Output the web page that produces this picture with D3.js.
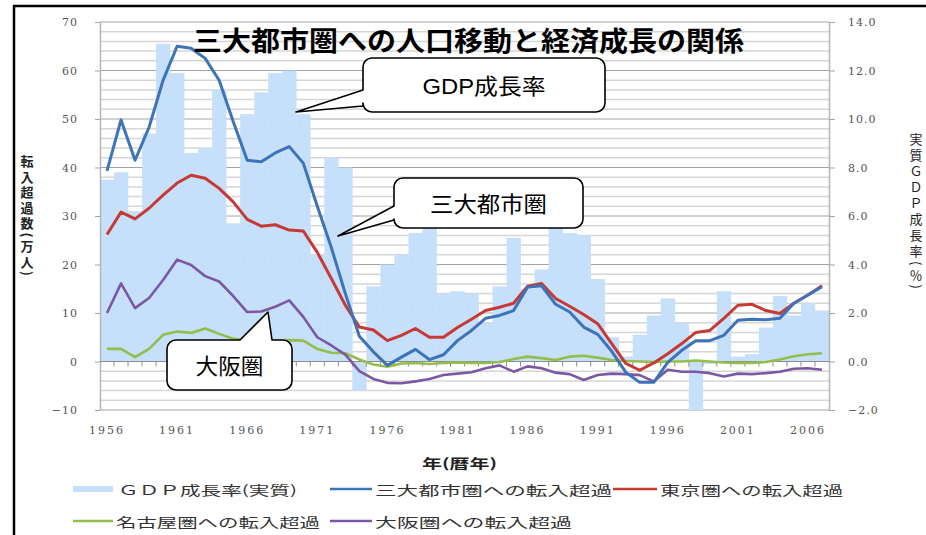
<!DOCTYPE html>
<html>
<head>
<meta charset="utf-8">
<script src="https://cdn.jsdelivr.net/npm/d3@7"></script>
<style>
  body { margin: 0; background: #fff; }
  svg { display: block; }
</style>
</head>
<body>
<svg id="chart" width="926" height="535"></svg>
<script>
// categories: calendar years 1956-2007
let years = d3.range(1956, 2008);

// real GDP growth rate (%), right axis
let gdpGrowth = [7.5, 7.8, 6.2, 9.4, 13.1, 11.9, 8.6, 8.8, 11.2, 5.7,
  10.2, 11.1, 11.9, 12.0, 10.2, 4.4, 8.4, 8.0, -1.2, 3.1,
  4.0, 4.4, 5.3, 5.5, 2.8, 2.9, 2.8, 1.6, 3.1, 5.1,
  3.0, 3.8, 6.8, 5.3, 5.2, 3.4, 1.0, 0.2, 1.1, 1.9,
  2.6, 1.6, -2.0, -0.1, 2.9, 0.2, 0.3, 1.4, 2.7, 1.9,
  2.4, 2.1];

// net in-migration (10k people), left axis
let sandaiNet = [39.3, 49.8, 41.5, 48.3, 58.0, 65.0, 64.6, 62.5, 58.0, 49.5,
  41.5, 41.2, 43.0, 44.3, 40.9, 32.0, 23.5, 14.0, 5.2, 2.0,
  -0.8, 0.9, 2.5, 0.4, 1.4, 4.3, 6.4, 8.9, 9.5, 10.5,
  15.3, 15.6, 11.8, 10.2, 7.1, 5.6, 2.1, -2.2, -4.3, -4.3,
  -0.2, 2.3, 4.3, 4.3, 5.4, 8.5, 8.7, 8.6, 8.9, 12.0,
  13.7, 15.4];
let tokyoNet = [26.2, 30.8, 29.4, 31.6, 34.3, 36.8, 38.4, 37.8, 35.7, 32.9,
  29.3, 27.9, 28.2, 27.1, 26.9, 22.5, 17.1, 11.6, 7.1, 6.5,
  4.3, 5.4, 6.8, 5.0, 5.0, 7.0, 8.7, 10.5, 11.2, 12.0,
  15.5, 16.1, 13.0, 11.4, 9.7, 7.8, 3.7, -0.4, -1.8, -0.3,
  1.6, 3.7, 6.0, 6.4, 8.9, 11.6, 11.8, 10.5, 9.9, 12.0,
  13.7, 15.6];
let nagoyaNet = [2.6, 2.6, 0.9, 2.6, 5.5, 6.2, 5.9, 6.8, 5.7, 4.7,
  4.4, 4.2, 4.3, 4.4, 4.3, 2.6, 1.8, 1.7, 0.4, -0.6,
  -1.1, -0.4, -0.3, -0.5, -0.3, -0.2, -0.3, -0.3, -0.1, 0.5,
  1.0, 0.7, 0.3, 1.0, 1.2, 0.8, 0.3, 0.1, 0.0, -0.1,
  0.0, 0.0, 0.2, 0.0, -0.2, -0.3, -0.3, -0.1, 0.4, 1.1,
  1.5, 1.7];
let osakaNet = [10.0, 16.1, 11.0, 13.1, 16.8, 21.0, 19.9, 17.6, 16.5, 13.5,
  10.2, 10.3, 11.3, 12.6, 9.2, 5.0, 3.3, 1.4, -2.0, -3.6,
  -4.4, -4.5, -4.1, -3.6, -2.8, -2.5, -2.2, -1.4, -0.8, -2.1,
  -1.0, -1.4, -2.3, -2.6, -3.8, -2.8, -2.5, -2.6, -2.8, -4.1,
  -1.7, -2.1, -2.1, -2.4, -3.1, -2.5, -2.6, -2.4, -2.1, -1.5,
  -1.4, -1.7];

let leftTicks = [-10, 0, 10, 20, 30, 40, 50, 60, 70];
let rightTicks = [-2, 0, 2, 4, 6, 8, 10, 12, 14];
let xTickYears = [1956, 1961, 1966, 1971, 1976, 1981, 1986, 1991, 1996, 2001, 2006];

let seriesNames = ["三大都市圏への転入超過", "東京圏への転入超過", "名古屋圏への転入超過", "大阪圏への転入超過"];
let barName = "ＧＤＰ成長率(実質)";

const colors = {
  bar: "#c6dffa",
  sandai: "#3d73b9",
  tokyo: "#c63a35",
  nagoya: "#94be4c",
  osaka: "#7b58a2"
};
const jp = "'Noto Sans CJK JP', sans-serif";
const serif = "'DejaVu Serif', serif";

const svg = d3.select("#chart");

//frame
svg.append("path")
  .attr("d", "M14,535V6H926")
  .attr("fill", "none")
  .attr("stroke", "#000")
  .attr("stroke-width", 2.5);

//scales
const plot = {left: 100, right: 829, top: 22, bottom: 410};
const x = d3.scaleBand().domain(years).range([plot.left, plot.right]).padding(0);
const bw = x.bandwidth();
const yL = d3.scaleLinear().domain([-10, 70]).range([plot.bottom, plot.top]);
const yR = d3.scaleLinear().domain([-2, 14]).range([plot.bottom, plot.top]);

//gridlines, minor every 2, major every 10
const grid = svg.append("g");
grid.selectAll("line.minor")
  .data(d3.range(-10, 71, 2).filter(d => d % 10 != 0))
  .enter().append("line")
  .attr("x1", plot.left).attr("x2", plot.right)
  .attr("y1", d => yL(d)).attr("y2", d => yL(d))
  .attr("stroke", "#d6d6d6").attr("stroke-width", 1.5);
grid.selectAll("line.major")
  .data(leftTicks)
  .enter().append("line")
  .attr("x1", plot.left).attr("x2", plot.right)
  .attr("y1", d => yL(d)).attr("y2", d => yL(d))
  .attr("stroke", "#a3a3a3").attr("stroke-width", 1);

//GDP bars
svg.append("g").selectAll("rect")
  .data(years)
  .enter().append("rect")
  .attr("x", d => x(d))
  .attr("width", bw + 0.3)
  .attr("y", (d, i) => yR(Math.max(0, gdpGrowth[i])))
  .attr("height", (d, i) => Math.abs(yR(gdpGrowth[i]) - yR(0)))
  .attr("fill", colors.bar);

//left axis
const axL = d3.axisLeft(yL).tickValues(leftTicks).tickSize(5).tickSizeOuter(0).tickPadding(17)
  .tickFormat(d3.format("d"));
const gL = svg.append("g").attr("transform", `translate(${plot.left},0)`).call(axL);
//right axis
const axR = d3.axisRight(yR).tickValues(rightTicks).tickSize(6).tickSizeOuter(0).tickPadding(13)
  .tickFormat(d3.format(".1f"));
const gR = svg.append("g").attr("transform", `translate(${plot.right},0)`).call(axR);
[gL, gR].forEach(g => {
  g.select(".domain").attr("stroke", "#b5b5b5").attr("stroke-width", 1.5);
  g.selectAll(".tick line").attr("stroke", "#a3a3a3");
  g.selectAll(".tick text")
    .attr("font-family", serif).attr("font-size", 11)
    .attr("letter-spacing", 1).attr("fill", "#555");
});

//category axis at zero with boundary ticks
const gX = svg.append("g");
gX.append("line")
  .attr("x1", plot.left).attr("x2", plot.right)
  .attr("y1", yL(0)).attr("y2", yL(0))
  .attr("stroke", "#8c8c8c").attr("stroke-width", 1.2);
gX.selectAll("line.tk")
  .data(years.slice(1))
  .enter().append("line")
  .attr("x1", d => x(d)).attr("x2", d => x(d))
  .attr("y1", yL(0)).attr("y2", yL(0) + 5)
  .attr("stroke", "#8c8c8c");

//year labels
const axB = d3.axisBottom(x).tickValues(xTickYears).tickSize(0).tickPadding(16);
const gB = svg.append("g").attr("transform", `translate(0,${plot.bottom})`).call(axB);
gB.select(".domain").remove();
gB.selectAll(".tick text")
  .attr("font-family", serif).attr("font-size", 11)
  .attr("letter-spacing", 2).attr("fill", "#555");

//lines
const line = d3.line().x((d, i) => x(years[i]) + bw / 2).y(d => yL(d));
const lineSeries = [
  {vals: nagoyaNet, color: colors.nagoya, w: 2.6},
  {vals: osakaNet, color: colors.osaka, w: 2.6},
  {vals: tokyoNet, color: colors.tokyo, w: 3},
  {vals: sandaiNet, color: colors.sandai, w: 3}
];
svg.append("g").selectAll("path")
  .data(lineSeries)
  .enter().append("path")
  .attr("d", d => line(d.vals))
  .attr("fill", "none")
  .attr("stroke", d => d.color)
  .attr("stroke-width", d => d.w)
  .attr("stroke-linejoin", "round");

//callouts
function calloutLeft(b, tip){
  let {x, y, w, h, r, a1, a2} = b;
  return `M${x+r},${y}H${x+w-r}A${r},${r} 0 0 1 ${x+w},${y+r}V${y+h-r}` +
    `A${r},${r} 0 0 1 ${x+w-r},${y+h}H${x+r}A${r},${r} 0 0 1 ${x},${y+h-r}` +
    `V${a2}L${tip[0]},${tip[1]}L${x},${a1}V${y+r}A${r},${r} 0 0 1 ${x+r},${y}Z`;
}
function calloutTop(b, tip){
  let {x, y, w, h, r, a1, a2} = b;
  return `M${x+r},${y}H${a1}L${tip[0]},${tip[1]}L${a2},${y}H${x+w-r}` +
    `A${r},${r} 0 0 1 ${x+w},${y+r}V${y+h-r}A${r},${r} 0 0 1 ${x+w-r},${y+h}` +
    `H${x+r}A${r},${r} 0 0 1 ${x},${y+h-r}V${y+r}A${r},${r} 0 0 1 ${x+r},${y}Z`;
}
const callouts = [
  {text: "GDP成長率", len: 123, box: {x: 363, y: 58, w: 242, h: 54, r: 9, a1: 90, a2: 106},
    tip: [296, 112], side: "left"},
  {text: "三大都市圏", len: 117, box: {x: 394, y: 178, w: 189, h: 50, r: 9, a1: 206, a2: 220},
    tip: [338, 236], side: "left"},
  {text: "大阪圏", len: 68, box: {x: 167, y: 340, w: 125, h: 50, r: 9, a1: 240, a2: 272},
    tip: [268, 312], side: "top"}
];
const gC = svg.append("g");
callouts.forEach(c => {
  gC.append("path")
    .attr("d", c.side == "left" ? calloutLeft(c.box, c.tip) : calloutTop(c.box, c.tip))
    .attr("fill", "#fff").attr("stroke", "#000").attr("stroke-width", 1.6)
    .attr("stroke-linejoin", "round");
  gC.append("text")
    .attr("x", c.box.x + c.box.w / 2 - c.len / 2)
    .attr("y", c.box.y + c.box.h / 2 + 1)
    .attr("dominant-baseline", "central")
    .attr("font-family", "'Liberation Sans', " + jp).attr("font-size", 22)
    .attr("textLength", c.len).attr("lengthAdjust", "spacingAndGlyphs")
    .attr("fill", "#000")
    .text(c.text);
});

//title
svg.append("text")
  .attr("x", 193).attr("y", 39)
  .attr("dominant-baseline", "central")
  .attr("font-family", jp).attr("font-size", 27).attr("font-weight", "bold")
  .attr("textLength", 551).attr("lengthAdjust", "spacingAndGlyphs")
  .text("三大都市圏への人口移動と経済成長の関係");

//vertical axis titles (ascii parens turn sideways, full-width letters stay upright)
svg.append("text")
  .attr("x", 27).attr("y", 155)
  .style("writing-mode", "vertical-rl")
  .attr("font-family", jp).attr("font-size", 13).attr("font-weight", "bold")
  .attr("letter-spacing", 2.5)
  .attr("fill", "#222")
  .text("転入超過数(万人)");
svg.append("text")
  .attr("x", 916).attr("y", 133)
  .style("writing-mode", "vertical-rl")
  .attr("font-family", jp).attr("font-size", 13)
  .attr("letter-spacing", 3)
  .attr("fill", "#222")
  .text("実質ＧＤＰ成長率(％)");

//x axis title
svg.append("text")
  .attr("x", 422).attr("y", 462)
  .attr("dominant-baseline", "central")
  .attr("font-family", jp).attr("font-size", 13).attr("font-weight", "bold")
  .attr("textLength", 75).attr("lengthAdjust", "spacingAndGlyphs")
  .attr("fill", "#222")
  .text("年(暦年)");

//legend
const legendItems = [
  {name: barName, kind: "bar", color: colors.bar, sx: 73, sw: 40, tx: 118, len: 179, y: 489},
  {name: seriesNames[0], kind: "line", color: colors.sandai, sx: 330, sw: 42, tx: 375, len: 237, y: 489},
  {name: seriesNames[1], kind: "line", color: colors.tokyo, sx: 613, sw: 44, tx: 660, len: 183, y: 489},
  {name: seriesNames[2], kind: "line", color: colors.nagoya, sx: 73, sw: 40, tx: 116, len: 204, y: 521},
  {name: seriesNames[3], kind: "line", color: colors.osaka, sx: 330, sw: 42, tx: 375, len: 197, y: 521}
];
const gLeg = svg.append("g");
legendItems.forEach(it => {
  if(it.kind == "bar"){
    gLeg.append("rect")
      .attr("x", it.sx).attr("y", it.y - 3).attr("width", it.sw).attr("height", 6)
      .attr("fill", it.color);
  }
  else{
    gLeg.append("line")
      .attr("x1", it.sx).attr("x2", it.sx + it.sw)
      .attr("y1", it.y).attr("y2", it.y)
      .attr("stroke", it.color).attr("stroke-width", 2.6);
  }
  gLeg.append("text")
    .attr("x", it.tx).attr("y", it.y)
    .attr("dominant-baseline", "central")
    .attr("font-family", jp).attr("font-size", 13)
    .attr("textLength", it.len).attr("lengthAdjust", "spacingAndGlyphs")
    .attr("fill", "#333")
    .text(it.name);
});
</script>
</body>
</html>
